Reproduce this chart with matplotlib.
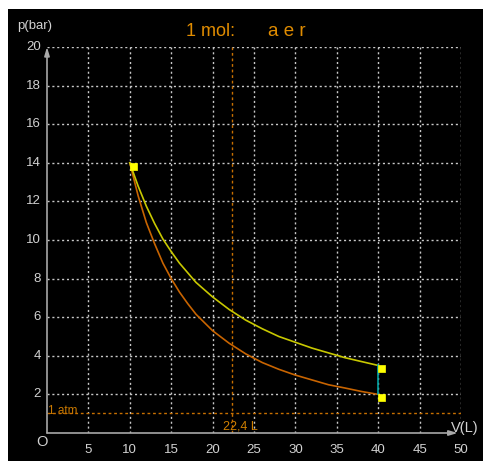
import matplotlib
matplotlib.use("Agg")
import matplotlib.pyplot as plt
from matplotlib.patches import Rectangle
from matplotlib.path import Path

# -----------------------------------
# DATA
# -----------------------------------
v_iso = [10, 11, 12, 13, 14, 15, 16, 17, 18, 20, 22, 24, 26, 28, 30, 32, 34, 36, 38, 40]
p_iso = [14.0, 12.8, 11.75, 10.85, 10.05, 9.4, 8.8, 8.3, 7.8, 7.05, 6.4, 5.85, 5.4,
         5.0, 4.7, 4.4, 4.15, 3.9, 3.7, 3.5]

v_adi = [10, 11, 12, 13, 14, 15, 16, 17, 18, 20, 22, 24, 26, 28, 30, 32, 34, 36, 38, 40]
p_adi = [14.0, 12.3, 10.9, 9.8, 8.8, 8.0, 7.3, 6.7, 6.15, 5.3, 4.65, 4.1, 3.65,
         3.3, 3.0, 2.75, 2.5, 2.33, 2.15, 2.0]

v_isochore = [40, 40]
p_isochore = [2.0, 3.5]

v_states = [10, 40, 40]
p_states = [14.0, 3.5, 2.0]

x_ticks = [5, 10, 15, 20, 25, 30, 35, 40, 45, 50]
y_ticks = [2, 4, 6, 8, 10, 12, 14, 16, 18, 20]

v_molar = 22.4
p_atm = 1.013

W, H = 483, 461
fig = plt.figure(figsize=(W / 100, H / 100), dpi=100)
fig.patch.set_facecolor("white")

# black panel (behind everything)
fig.patches.append(Rectangle((8 / W, 0), 1, (H - 9) / H, transform=fig.transFigure,
                             facecolor="black", edgecolor="none", zorder=-10))

# axes mapped so that V 0..50 -> px 47..461, p 0..20 -> px 433..47
ax = fig.add_axes([47 / W, (H - 433) / H, (461 - 47) / W, (433 - 47) / H])
ax.set_zorder(5)
ax.set_xlim(0, 50)
ax.set_ylim(0, 20)
ax.patch.set_visible(False)
for s in ax.spines.values():
    s.set_visible(False)
ax.set_xticks([])
ax.set_yticks([])

grid_col = "#c8c8c8"
txt_col = "#d2d2d2"
dots = (0, (1.5, 2))

# -----------------------------------
# GRID
# -----------------------------------
for x in x_ticks:
    ax.plot([x, x], [0, 20], color=grid_col, lw=1, ls=dots, zorder=1)
for y in y_ticks:
    ax.plot([0, 50], [y, y], color=grid_col, lw=1, ls=dots, zorder=1)

# molar volume / 1 atm reference lines
ax.plot([v_molar, v_molar], [0, 20], color="#c87000", lw=1, ls=(0, (2, 2)), zorder=1)
ax.plot([0, 50], [p_atm, p_atm], color="#c87000", lw=1, ls=(0, (2, 2)), zorder=1)

# -----------------------------------
# AXES WITH ARROWS
# -----------------------------------
axis_col = "#a8a8a8"
ax.annotate("", xy=(0, 20), xytext=(0, 0),
            arrowprops=dict(arrowstyle="-|>,head_length=0.5,head_width=0.15",
                            color=axis_col, lw=1.2, shrinkA=0, shrinkB=0), zorder=3)
ax.annotate("", xy=(49.6, 0), xytext=(0, 0),
            arrowprops=dict(arrowstyle="-|>,head_length=0.5,head_width=0.15",
                            color=axis_col, lw=1.2, shrinkA=0, shrinkB=0), zorder=3)

# -----------------------------------
# CURVES
# -----------------------------------
ax.plot(v_adi, p_adi, color="#c86400", lw=1.2, zorder=4)
ax.plot(v_iso, p_iso, color="#c8c800", lw=1.2, zorder=4)
ax.plot(v_isochore, p_isochore, color="#00a0a0", lw=1.2, zorder=4)

# square markers with top-left corner on the state point
corner_sq = Path([(0, 0), (1, 0), (1, -1), (0, -1), (0, 0)])
ax.plot(v_states, p_states, ls="none", marker=corner_sq, markersize=9.8,
        markerfacecolor="#ffff00", markeredgecolor="#ffff00", markeredgewidth=0.5,
        zorder=5, clip_on=False)

# -----------------------------------
# LABELS
# -----------------------------------
font = "Liberation Sans"
for x in x_ticks:
    fig.text((47 + 8.28 * x) / W, (H - 450) / H, str(x), ha="center", va="center",
             color=txt_col, fontsize=9.5, family=font)
for y in y_ticks:
    fig.text(41 / W, (H - (433 - 19.3 * y)) / H, str(y), ha="right", va="center",
             color=txt_col, fontsize=9.5, family=font)

fig.text(17 / W, (H - 26) / H, "p(bar)", ha="left", va="center",
         color=txt_col, fontsize=9.5, family=font)
fig.text(42 / W, (H - 442) / H, "O", ha="center", va="center",
         color=txt_col, fontsize=10.5, family=font)
fig.text(451 / W, (H - 428) / H, "V(L)", ha="left", va="center",
         color=txt_col, fontsize=10.5, family=font)

fig.text(186 / W, (H - 31) / H, "1 mol:", ha="left", va="center",
         color="#e08c00", fontsize=13, family=font)
fig.text(268 / W, (H - 31) / H, "a e r", ha="left", va="center",
         color="#e08c00", fontsize=13.5, family=font)

fig.text(48 / W, (H - 411) / H, "1 atm", ha="left", va="center",
         color="#c87800", fontsize=8.5, family=font)
fig.text(240 / W, (H - 426) / H, "22,4 L", ha="center", va="center",
         color="#d08000", fontsize=9, family=font)

plt.savefig("out.png", dpi=100, facecolor=fig.get_facecolor())
